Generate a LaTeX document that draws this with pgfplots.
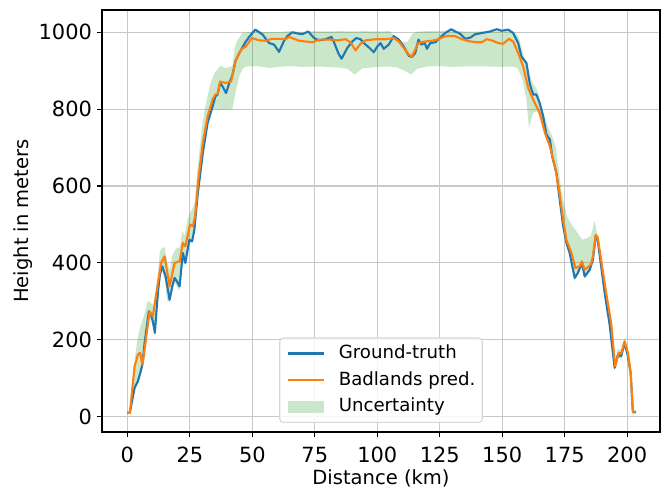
\documentclass[border=0pt]{standalone}
\usepackage{fontspec}
\setmainfont{DejaVu Sans}
\usepackage{pgfplots}
\usepackage{pgfplotstable}
\pgfplotsset{compat=1.18}
\usepgfplotslibrary{fillbetween}

\definecolor{tabblue}{HTML}{1F77B4}
\definecolor{taborange}{HTML}{FF7F0E}
\definecolor{tabgreen}{HTML}{2CA02C}
\definecolor{bandgreen}{HTML}{CAE7CA}
\definecolor{gridgray}{HTML}{C8C8C8}
\definecolor{legendgray}{HTML}{D6D6D6}

% ground truth profile
\pgfplotstableread{
x y
0 10
1 10
2 45
2.9 75
4.2 92
5 110
6 135
6.9 192
8.6 274
9.5 265
10.2 248
11 218
12.2 322
13 370
14 391
15.3 365
16.9 304
18 340
18.9 361
20 350
20.9 339
22.2 426
23.2 400
24.8 460
25.9 456
26.8 486
28.2 582
30.2 686
32.1 764
34.1 807
35.2 833
36.1 838
37.1 868
38 860
39.5 842
40.8 868
42.1 890
43.2 924
44.8 946
46 960
47.4 976
49 990
51.2 1007
54.1 994
56.7 972
58.7 968
60.7 949
62.7 978
64 990
66 1000
68 997
70 995
72.4 1002
74.7 985
76.7 979
79.3 982
81.7 988
82.7 974
84.4 946
85.7 931
88 959
90 976
91.6 985
93.3 982
94.6 972
96.6 961
98.6 948
99.9 962
101.3 972
102.6 957
104.6 968
106.6 990
108.6 981
110.6 963
112.6 939
113.9 936
115.2 946
116.5 981
117.6 968
119 972
119.9 957
121.2 972
123.2 974
125.8 990
127.2 998
129.6 1008
131.2 1002
133.2 996
135.2 983
137.2 986
139.2 995
141.8 998
145.1 1002
147.8 1008
149.8 1004
152.4 1007
154.4 998
156.4 972
157.7 937
159.7 920
161.1 864
162.4 838
163.7 838
165 816
166.4 781
167.7 734
169.1 721
170 677
171.7 634
173 565
174.4 495
175.7 452
177 426
179 361
180.3 374
181.9 400
183 365
185 382
186.3 408
187.4 469
188.2 460
191 322
193 239
195 127
196.3 161
197.6 157
199 192
200.3 157
201.4 114
202.3 12
203.6 12
}\truthtab

% Badlands prediction
\pgfplotstableread{
x y
0 10
1 10
2.9 131
4.2 161
5.1 166
6 135
7 180
8.9 274
10.2 261
11.6 322
13.5 400
14.9 417
16.9 339
18.9 400
20.9 404
22.2 452
23.2 443
25.1 500
26.2 495
27.1 521
28.4 617
30.2 712
32.1 781
34.1 825
35.2 838
36.1 840
37.1 872
39.5 868
41.5 872
42.4 898
43.5 929
45.5 955
47.4 963
49.8 985
52.8 979
55.4 978
58 983
60.8 983
63.4 982
64.7 988
68.7 978
71.4 976
74 974
76.7 981
80.7 981
84 979
87.3 982
89.3 974
91.3 953
93.3 970
95.3 979
99.3 982
103.3 982
106.6 985
108.6 976
110.6 959
112.6 942
113.9 937
115.2 955
116.5 972
119 976
121.9 978
124.5 982
126.5 988
128.5 991
131.2 990
133.8 982
136.5 977
139.8 974
141.8 974
143.8 982
145.8 979
148.4 972
150.4 970
152.7 983
154.4 976
156.4 946
158.4 911
160.4 855
162.4 825
165 790
167.1 738
169.1 703
171.1 651
172.6 599
174.4 512
175.7 460
177.7 426
179.3 387
181 391
181.9 404
183 382
185.4 395
186.3 417
187.4 473
188.2 467
191.6 322
193.6 244
195.2 131
196.6 166
197.6 164
199 196
200.3 166
201.4 114
202.3 13
203.6 13
}\predtab

% uncertainty band, upper edge
\pgfplotstableread{
x y
0 12
1 14
2 60
3 150
4 200
5 230
6 250
7 270
8 300
9 300
10 290
11 300
12 350
13 430
14 440
15 440
16 400
17 380
18 420
19 433
20 440
21 440
22 482
23 470
24 510
25 530
26 540
27 557
28 640
29 700
30 760
31 800
32 830
33 860
34 880
35 895
36 903
37 911
38 912
39 907
40 908
41 910
42 912
43 960
44 978
46 998
50 1002
55 1001
60 1000
65 1003
70 1001
75 1003
80 1002
85 1003
90 1002
95 1003
100 1002
105 1003
107 990
110 975
112 975
114 995
116 1002
120 1003
125 1003
130 1005
135 1002
140 1002
145 1003
150 1004
153 1005
155 1000
156.5 990
158 955
160 905
162 870
164 850
166 800
168 760
170 730
171.5 700
173 620
174.5 560
176 520
178 497
180 480
182 460
184 465
185.5 470
187 510
188.2 468
190 380
192 300
194 220
195.2 135
196 175
197.6 175
199 205
200.3 170
201.4 118
202.3 15
203.6 15
}\bandhi

% uncertainty band, lower edge
\pgfplotstableread{
x y
0 8
1 8
2 40
3 70
4 85
5 100
6 125
7 150
8 230
9 255
10 240
11 212
12 300
13 350
14 380
15 355
16 300
17 300
18 330
19 350
20 335
21 330
22 415
23 395
24 440
25 450
26 455
27 480
28 570
30 670
32 755
34 798
35 800
36 799
38 798
40 799
42 800
43.5 850
45 890
46.5 908
48 911
52 912
57 907
60 910
65 912
70 910
75 911
80 910
85 908
88 905
91 890
94 906
100 910
105 911
108 908
111 900
113.5 890
116 905
120 911
125 912
130 910
135 911
140 911
145 911
150 910
154 911
156 908
158 880
159.7 825
160.7 751
162.4 790
164 795
165 781
166.4 760
167.7 725
169 710
170 670
171.7 625
173 555
174.4 487
175.7 444
177 418
179 355
180.3 368
181.9 393
183 358
185 375
186.3 400
187.4 460
188.2 452
191 315
193 232
195 120
196.3 154
197.6 150
199 185
200.3 150
201.4 108
202.3 8
203.6 8
}\bandlo

\begin{document}
\begin{tikzpicture}
\begin{axis}[
    at={(102bp,57bp)}, anchor=south west,
    width=558bp, height=422bp, scale only axis,
    xmin=-10.15, xmax=213.15,
    ymin=-40, ymax=1058,
    xtick={0,25,...,200},
    ytick={0,200,...,1000},
    xtick pos=bottom, ytick pos=left,
    tick align=outside,
    major tick length=4.9bp,
    tick style={black, line width=1.1bp},
    axis line style={line width=1.1bp},
    grid=major,
    major grid style={gridgray, line width=1.1bp},
    /pgf/number format/assume math mode=true,
    /pgf/number format/1000 sep={},
    ticklabel style={font=\fontsize{21}{25}\selectfont},
    xticklabel style={anchor=north, inner sep=0pt, yshift=-10bp},
    yticklabel style={anchor=east, inner sep=0pt, xshift=-5bp},
    label style={font=\fontsize{19.6}{23}\selectfont},
    xlabel={Distance (km)},
    ylabel={Height in meters},
    xlabel style={at={(axis description cs:0.5,-0.111)}, anchor=center},
    ylabel style={at={(axis description cs:-0.142,0.5)}, anchor=center},
    legend style={at={(axis description cs:0.5,0)}, anchor=south, yshift=9bp,
      draw=legendgray, fill=white, fill opacity=0.8, text opacity=1,
      rounded corners=3.5bp, line width=1.1bp,
      font=\fontsize{18.2}{22}\selectfont,
      inner xsep=7bp, inner ysep=7bp, row sep=9.7bp, column sep=14bp,
      nodes={inner sep=0pt, text height=13.5bp, text depth=3.5bp}},
    legend cell align=left,
    legend image code/.code={\draw[#1] (0bp,0bp) -- (36bp,0bp);},
]
\addplot[draw=none, name path=up, forget plot] table {\bandhi};
\addplot[draw=none, name path=lo, forget plot] table {\bandlo};
\addplot[tabgreen, fill opacity=0.25, draw=none, forget plot] fill between[of=up and lo];

\addplot[tabblue, line width=2.1bp, line join=round] table {\truthtab};
\addlegendentry{Ground-truth}
\addplot[taborange, line width=2.1bp, line join=round] table {\predtab};
\addlegendentry{Badlands pred.}
\addlegendimage{legend image code/.code={\path[draw=none, fill=bandgreen, fill opacity=1, sharp corners] (0bp,-6bp) rectangle (36bp,6bp);}}
\addlegendentry{Uncertainty}
\end{axis}
\pgfresetboundingbox
\path[use as bounding box] (0,0) rectangle (662bp,489bp);
\end{tikzpicture}
\end{document}
